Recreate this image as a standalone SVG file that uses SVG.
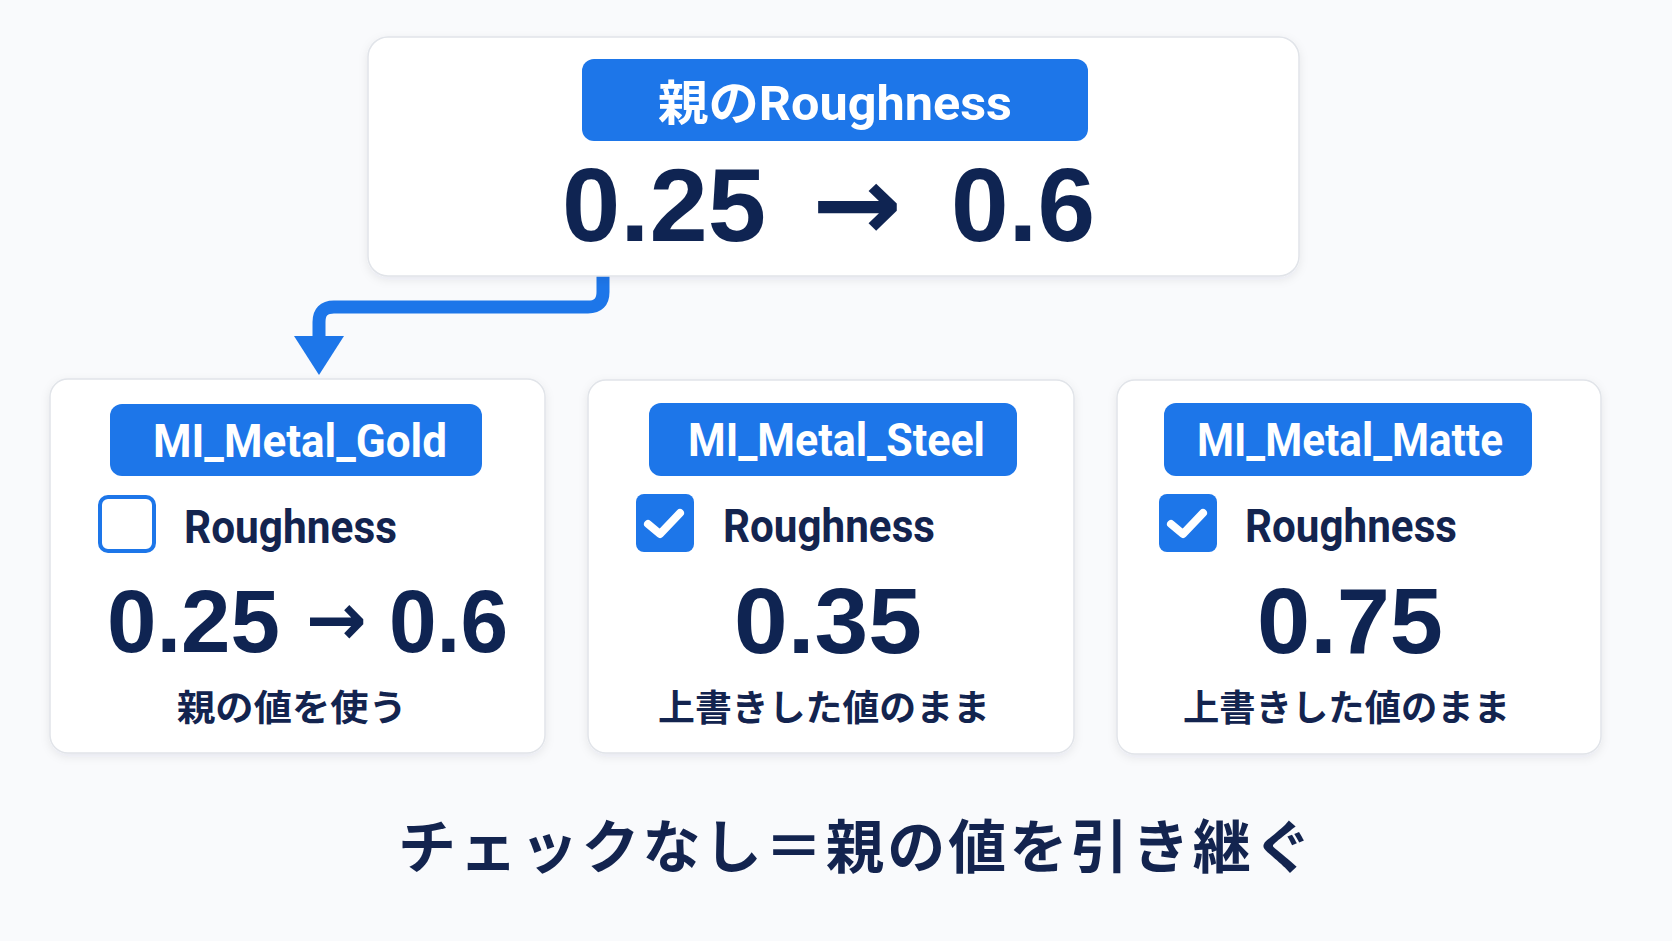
<svg xmlns="http://www.w3.org/2000/svg" width="1672" height="941" viewBox="0 0 1672 941">
<defs>
<filter id="sh" x="-10%" y="-10%" width="120%" height="130%">
<feDropShadow dx="0" dy="3" stdDeviation="5" flood-color="#1b2a4a" flood-opacity="0.08"/>
</filter>
<marker id="ah" viewBox="0 0 39 50" refX="1" refY="25" markerWidth="39" markerHeight="50" markerUnits="userSpaceOnUse" orient="auto">
<path d="M0,0 L39,25 L0,50 Z" fill="#1d76e9"/>
</marker>
<style>
.card{fill:#ffffff;stroke:#e1e4e9;stroke-width:1.5;filter:url(#sh)}
.pill{fill:#1d76e9}
.pt{font-family:Roboto,"Noto Sans CJK JP",sans-serif;font-weight:700;fill:#ffffff}
.lab{font-family:Roboto,"Noto Sans",sans-serif;font-weight:700;fill:#13244f;font-size:46px}
.num{font-family:"Liberation Sans",Arial,sans-serif;font-weight:700;fill:#0f2452}
.arr{font-family:"DejaVu Sans",sans-serif;font-weight:700;fill:#0f2452}
.cap{font-family:"Noto Sans CJK JP",sans-serif;font-weight:700;fill:#13244f;font-size:36px}
.cbf{fill:#1d76e9}
.cbe{fill:#ffffff;stroke:#1d76e9;stroke-width:4}
.chk{fill:none;stroke:#ffffff;stroke-width:8;stroke-linecap:round;stroke-linejoin:round}
.conn{fill:none;stroke:#1d76e9;stroke-width:13;stroke-linejoin:round}
</style>
</defs>
<rect x="0" y="0" width="1672" height="941" fill="#f9fafc"/>

<g id="connectors">
<path class="conn" d="M603 276 V292 Q603 307 588 307 H334 Q319 307 319 322 V337" marker-end="url(#ah)"/>
</g>

<g id="parent">
<rect class="card" x="368" y="37" width="931" height="239" rx="20"/>
<rect class="pill" x="582" y="59" width="506" height="82" rx="12"/>
<text class="pt" x="658" y="120" font-size="48" textLength="354" lengthAdjust="spacingAndGlyphs">親のRoughness</text>
<text class="num" x="562" y="241" font-size="104" textLength="204" lengthAdjust="spacingAndGlyphs">0.25</text>
<text class="arr" x="812" y="240" font-size="104" textLength="90" lengthAdjust="spacingAndGlyphs">→</text>
<text class="num" x="951" y="241" font-size="104" textLength="144" lengthAdjust="spacingAndGlyphs">0.6</text>
</g>

<g id="gold">
<rect class="card" x="50" y="379" width="495" height="374" rx="18"/>
<rect class="pill" x="110" y="404" width="372" height="72" rx="12"/>
<text class="pt" x="153" y="457" font-size="46" textLength="294" lengthAdjust="spacingAndGlyphs">MI_Metal_Gold</text>
<rect class="cbe" x="100" y="497" width="54" height="54" rx="8"/>
<text class="lab" x="184" y="543" textLength="213" lengthAdjust="spacingAndGlyphs">Roughness</text>
<text class="num" x="107" y="652" font-size="89" textLength="173" lengthAdjust="spacingAndGlyphs">0.25</text>
<text class="arr" x="306" y="645" font-size="74" textLength="61" lengthAdjust="spacingAndGlyphs">→</text>
<text class="num" x="389" y="652" font-size="89" textLength="119" lengthAdjust="spacingAndGlyphs">0.6</text>
<text class="cap" x="177" y="721" textLength="230" lengthAdjust="spacingAndGlyphs">親の値を使う</text>
</g>

<g id="steel">
<rect class="card" x="588" y="380" width="486" height="373" rx="18"/>
<rect class="pill" x="649" y="403" width="368" height="73" rx="12"/>
<text class="pt" x="688" y="456" font-size="46" textLength="297" lengthAdjust="spacingAndGlyphs">MI_Metal_Steel</text>
<rect class="cbf" x="636" y="494" width="58" height="58" rx="8"/>
<path class="chk" d="M648 524 L660 534 L680 513"/>
<text class="lab" x="723" y="542" textLength="212" lengthAdjust="spacingAndGlyphs">Roughness</text>
<text class="num" x="734" y="653" font-size="92" textLength="188" lengthAdjust="spacingAndGlyphs">0.35</text>
<text class="cap" x="658" y="721" textLength="332" lengthAdjust="spacingAndGlyphs">上書きした値のまま</text>
</g>

<g id="matte">
<rect class="card" x="1117" y="380" width="484" height="374" rx="18"/>
<rect class="pill" x="1164" y="403" width="368" height="73" rx="12"/>
<text class="pt" x="1197" y="456" font-size="46" textLength="306" lengthAdjust="spacingAndGlyphs">MI_Metal_Matte</text>
<rect class="cbf" x="1159" y="494" width="58" height="58" rx="8"/>
<path class="chk" d="M1171 524 L1183 534 L1203 513"/>
<text class="lab" x="1245" y="542" textLength="212" lengthAdjust="spacingAndGlyphs">Roughness</text>
<text class="num" x="1257" y="653" font-size="92" textLength="186" lengthAdjust="spacingAndGlyphs">0.75</text>
<text class="cap" x="1183" y="721" textLength="327" lengthAdjust="spacingAndGlyphs">上書きした値のまま</text>
</g>

<g id="footer">
<text x="398" y="868" font-family="Noto Sans CJK JP, sans-serif" font-weight="700" font-size="58" fill="#13244f" textLength="914" lengthAdjust="spacing">チェックなし＝親の値を引き継ぐ</text>
</g>
</svg>
